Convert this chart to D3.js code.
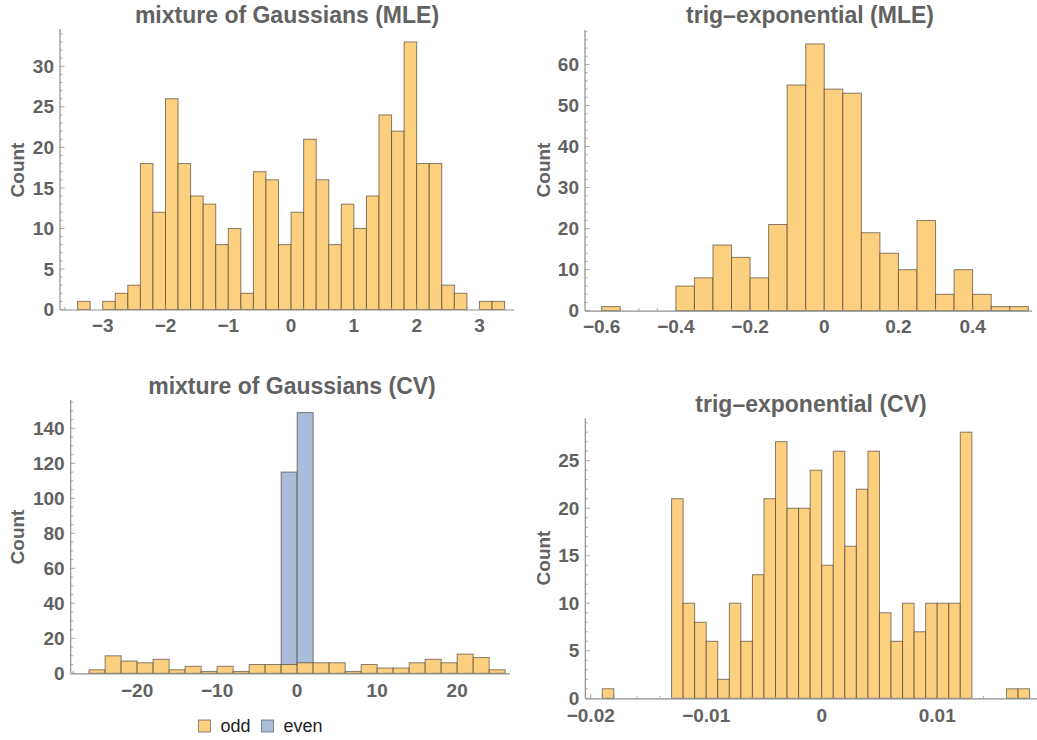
<!DOCTYPE html>
<html><head><meta charset="utf-8">
<script src="https://cdn.jsdelivr.net/npm/d3@7"></script>
<style>
body{margin:0;background:#fff;}
svg{display:block;font-family:"Liberation Sans",Arial,sans-serif;}
</style></head>
<body>
<svg id="chart" width="1037" height="740"></svg>
<script>
// ---------- DATA ----------
// Panel A: mixture of Gaussians (MLE)
const mogMleBinWidth = 0.2;
const mogMleBins = [-3.4,-3.2,-3.0,-2.8,-2.6,-2.4,-2.2,-2.0,-1.8,-1.6,-1.4,-1.2,-1.0,-0.8,-0.6,-0.4,-0.2,0,0.2,0.4,0.6,0.8,1.0,1.2,1.4,1.6,1.8,2.0,2.2,2.4,2.6,2.8,3.0,3.2];
const mogMleCounts = [1,0,1,2,3,18,12,26,18,14,13,8,10,2,17,16,8,12,21,16,8,13,10,14,24,22,33,18,18,3,2,0,1,1];
const mogMleXTicks = [-3,-2,-1,0,1,2,3];
const mogMleYTicks = [0,5,10,15,20,25,30];

// Panel B: trig-exponential (MLE)
const trigMleBinWidth = 0.05;
const trigMleBins = [-0.6,-0.55,-0.5,-0.45,-0.4,-0.35,-0.3,-0.25,-0.2,-0.15,-0.1,-0.05,0,0.05,0.1,0.15,0.2,0.25,0.3,0.35,0.4,0.45,0.5];
const trigMleCounts = [1,0,0,0,6,8,16,13,8,21,55,65,54,53,19,14,10,22,4,10,4,1,1];
const trigMleXTicks = [-0.6,-0.4,-0.2,0,0.2,0.4];
const trigMleYTicks = [0,10,20,30,40,50,60];

// Panel C: mixture of Gaussians (CV), two series
const mogCvBinWidth = 2;
const mogCvOddBins = [-26,-24,-22,-20,-18,-16,-14,-12,-10,-8,-6,-4,-2,0,2,4,6,8,10,12,14,16,18,20,22,24];
const mogCvOddCounts = [2,10,7,6,8,2,4,1,4,1,5,5,5,6,6,6,1,5,3,3,6,8,6,11,9,2];
const mogCvEvenBins = [-2,0];
const mogCvEvenCounts = [115,149];
const mogCvXTicks = [-20,-10,0,10,20];
const mogCvYTicks = [0,20,40,60,80,100,120,140];
const legendLabels = ["odd","even"];

// Panel D: trig-exponential (CV)
const trigCvBinWidth = 0.001;
const trigCvBins = [-0.019,-0.013,-0.012,-0.011,-0.010,-0.009,-0.008,-0.007,-0.006,-0.005,-0.004,-0.003,-0.002,-0.001,0,0.001,0.002,0.003,0.004,0.005,0.006,0.007,0.008,0.009,0.010,0.011,0.012,0.016,0.017];
const trigCvCounts = [1,21,10,8,6,2,10,6,13,21,27,20,20,24,14,26,16,22,26,9,6,10,7,10,10,10,28,1,1];
const trigCvXTicks = [-0.02,-0.01,0,0.01];
const trigCvYTicks = [0,5,10,15,20,25];

const titles = ["mixture of Gaussians (MLE)","trig\u2013exponential (MLE)","mixture of Gaussians (CV)","trig\u2013exponential (CV)"];

// ---------- STYLE ----------
const ORANGE = "#FDD07F";
const BLUE = "#A9BCD9";
const EDGE = "rgba(70,62,50,0.65)";
const TEXT = "#626262";
const AXIS = "#8f8f8f";

const svg = d3.select("#chart");
const minus = s => s.replace(/-/g, "\u2212");

function panel(cfg){
  const g = svg.append("g");
  const x = d3.scaleLinear().domain(cfg.xDom).range([cfg.left, cfg.right]);
  const y = d3.scaleLinear().domain(cfg.yDom).range([cfg.bottom, cfg.top]);

  const xMinor = d3.range(Math.ceil(cfg.xDom[0]/cfg.xMinor), Math.floor(cfg.xDom[1]/cfg.xMinor)+1).map(k=>k*cfg.xMinor);
  const yMinor = d3.range(0, Math.floor(cfg.yDom[1]/cfg.yMinor)+1).map(k=>k*cfg.yMinor);

  // bars
  cfg.series.forEach(s=>{
    g.append("g").selectAll("rect").data(s.bins.map((b,i)=>({x0:b, c:s.counts[i]})).filter(d=>d.c>0))
      .join("rect")
      .attr("x", d=>x(d.x0))
      .attr("width", d=>x(d.x0+cfg.bw)-x(d.x0))
      .attr("y", d=>y(d.c))
      .attr("height", d=>y(0)-y(d.c))
      .attr("fill", s.color)
      .attr("stroke", EDGE)
      .attr("stroke-width", 1);
  });

  // axes lines
  g.append("line").attr("x1",cfg.left).attr("x2",cfg.right).attr("y1",cfg.bottom+0.5).attr("y2",cfg.bottom+0.5)
    .attr("stroke",AXIS).attr("stroke-width",1.2);
  g.append("line").attr("x1",cfg.left).attr("x2",cfg.left).attr("y1",cfg.bottom).attr("y2",cfg.top)
    .attr("stroke",AXIS).attr("stroke-width",1.2);

  const isMajor = (v, ticks) => ticks.some(t=>Math.abs(t-v) < 1e-9);
  g.append("g").selectAll("line").data(yMinor).join("line")
    .attr("x1",cfg.left).attr("x2",d=>cfg.left+(isMajor(d,cfg.yTicks)?4.5:2.5))
    .attr("y1",d=>y(d)).attr("y2",d=>y(d)).attr("stroke",AXIS).attr("stroke-width",0.8);
  g.append("g").selectAll("line").data(xMinor).join("line")
    .attr("y1",cfg.bottom).attr("y2",d=>cfg.bottom-(isMajor(d,cfg.xTicks)?4.5:2.5))
    .attr("x1",d=>x(d)).attr("x2",d=>x(d)).attr("stroke",AXIS).attr("stroke-width",0.8);

  // tick labels
  g.append("g").selectAll("text").data(cfg.yTicks).join("text")
    .attr("x", cfg.left-6).attr("y", d=>y(d)).attr("dy","0.35em")
    .attr("text-anchor","end").attr("font-size",19).attr("font-weight","bold").attr("fill",TEXT)
    .text(d=>d);
  g.append("g").selectAll("text").data(cfg.xTicks).join("text")
    .attr("x", d=>x(d)).attr("y", cfg.bottom+cfg.xLabelDy)
    .attr("text-anchor","middle").attr("font-size",19).attr("font-weight","bold").attr("fill",TEXT)
    .text(d=> d===0 ? "0" : minus(cfg.fmt(d)));

  // y label
  g.append("text").attr("transform",`translate(${cfg.ylabX},${cfg.ylabY}) rotate(-90)`)
    .attr("text-anchor","middle").attr("font-size",19).attr("font-weight","bold").attr("fill",TEXT)
    .text("Count");
  // title
  g.append("text").attr("x",cfg.titleX).attr("y",cfg.titleY).attr("text-anchor","middle")
    .attr("font-size",23).attr("font-weight","bold").attr("fill",TEXT).text(cfg.title);
}

panel({
  title: titles[0], titleX: 287, titleY: 23,
  left: 60, right: 514, top: 29, bottom: 309.5,
  xDom: [-3.68, 3.55], yDom: [0, 34.6],
  bw: mogMleBinWidth,
  series: [{bins: mogMleBins, counts: mogMleCounts, color: ORANGE}],
  xTicks: mogMleXTicks, yTicks: mogMleYTicks, xMinor: 0.2, yMinor: 1,
  fmt: d3.format("d"), xLabelDy: 22.5, ylabX: 24, ylabY: 170
});
panel({
  title: titles[1], titleX: 810, titleY: 23,
  left: 585, right: 1032, top: 30, bottom: 310.7,
  xDom: [-0.645, 0.56], yDom: [0, 68.4],
  bw: trigMleBinWidth,
  series: [{bins: trigMleBins, counts: trigMleCounts, color: ORANGE}],
  xTicks: trigMleXTicks, yTicks: trigMleYTicks, xMinor: 0.05, yMinor: 2,
  fmt: d3.format(".1f"), xLabelDy: 22.5, ylabX: 550, ylabY: 170
});
panel({
  title: titles[2], titleX: 292, titleY: 393.5,
  left: 70.7, right: 510, top: 400, bottom: 673.3,
  xDom: [-28.3, 26.6], yDom: [0, 156.2],
  bw: mogCvBinWidth,
  series: [{bins: mogCvEvenBins, counts: mogCvEvenCounts, color: BLUE},
           {bins: mogCvOddBins, counts: mogCvOddCounts, color: ORANGE}],
  xTicks: mogCvXTicks, yTicks: mogCvYTicks, xMinor: 2, yMinor: 5,
  fmt: d3.format("d"), xLabelDy: 23.5, ylabX: 24, ylabY: 537
});
panel({
  title: titles[3], titleX: 811, titleY: 411.7,
  left: 585.3, right: 1037, top: 418.3, bottom: 698.3,
  xDom: [-0.02047, 0.01864], yDom: [0, 29.46],
  bw: trigCvBinWidth,
  series: [{bins: trigCvBins, counts: trigCvCounts, color: ORANGE}],
  xTicks: trigCvXTicks, yTicks: trigCvYTicks, xMinor: 0.002, yMinor: 1,
  fmt: d3.format(".2f"), xLabelDy: 24, ylabX: 550, ylabY: 558
});

// legend
const leg = svg.append("g");
const legColors = [ORANGE, BLUE];
const legX = [198.5, 261.5];
leg.selectAll("rect").data(legendLabels).join("rect")
  .attr("x",(d,i)=>legX[i]).attr("y",720).attr("width",12).attr("height",12)
  .attr("fill",(d,i)=>legColors[i]).attr("stroke","rgba(90,90,90,0.7)").attr("stroke-width",1);
leg.selectAll("text").data(legendLabels).join("text")
  .attr("x",(d,i)=>legX[i]+22).attr("y",731.5)
  .attr("font-size",18).attr("fill","#222").text(d=>d);
</script>
</body></html>
